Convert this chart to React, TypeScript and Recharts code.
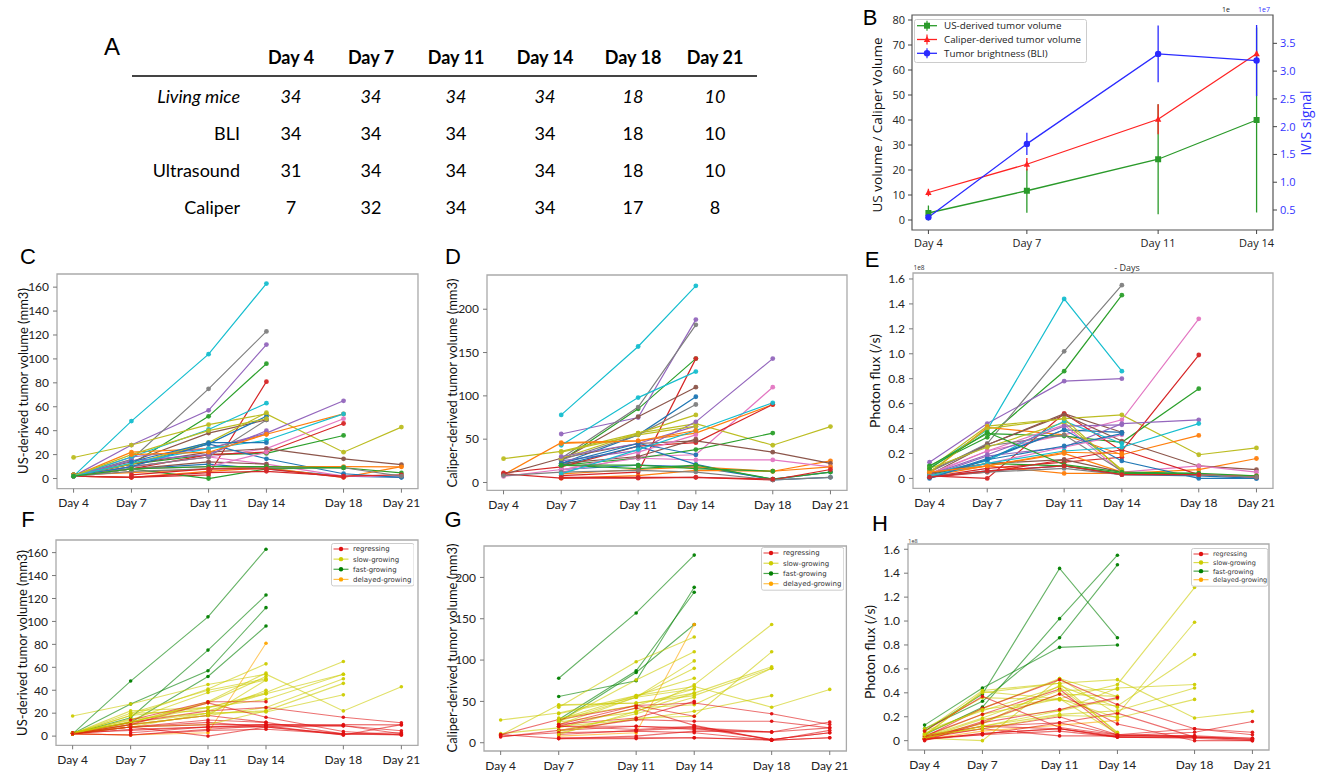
import React from "react";
import { LineChart, Line, XAxis, YAxis, ErrorBar, ReferenceArea } from "recharts";

type V = number | null;
const N = null;

const days = [4, 7, 11, 14, 18, 21];
const tab10 = ["#1f77b4", "#ff7f0e", "#2ca02c", "#d62728", "#9467bd", "#8c564b", "#e377c2", "#7f7f7f", "#bcbd22", "#17becf"];

// table A
const tableHeader = ["Day 4", "Day 7", "Day 11", "Day 14", "Day 18", "Day 21"];
const livingMice = [34, 34, 34, 34, 18, 10];
const bliCounts = [34, 34, 34, 34, 18, 10];
const ultrasoundCounts = [31, 34, 34, 34, 18, 10];
const caliperCounts = [7, 32, 34, 34, 17, 8];

// panel B (mean +/- sd)
const bDays = [4, 7, 11, 14];
const usMean = [2.8, 11.7, 24.3, 40.0];
const usSd = [3, 8.8, 22, 37];
const calMean = [11.0, 22.3, 40.3, 66.5];
const calSd = [1.5, 2.5, 6, 1];
const bliMean = [0.37e7, 1.69e7, 3.31e7, 3.19e7];
const bliSd = [0.05e7, 0.2e7, 0.51e7, 0.64e7];

// one row per mouse, columns = days 4,7,11,14,18,21
const usVolume: V[][] = [
  [3, 8, 12, 8, 2, 1],
  [2, 1, 6, 9, 1, 10],
  [3, 12, 52, 96],
  [2, 1, 3, 81],
  [2, 28, 57, 112],
  [3, 14, 38, 49],
  [2, 10, 18, 25, 50],
  [2, 16, 75, 123],
  [17.6, 28, 45, 54, 22, 43],
  [2, 48, 104, 163],
  [3, 12, 29, 52],
  [2, 22, 25, 37, 54],
  [3, 12, 20, 21, 36],
  [2, 8, 20, 22, 46],
  [2, 18, 25, 38, 65],
  [2, 12, 22, 25, 16.5, 11.7],
  [2, 10, 18, 12, 2, 1.5],
  [2, 10, 18, 49],
  [3, 12, 30, 55],
  [2, 18, 41, 63],
  [2, 10, 29, 16.5, 4, 1],
  [3, 5, 8, 10, 10, 9.8],
  [2, 8, 0, 8, 9, 4.7],
  [2, 1, 5, 6, 2, 3],
  [2, 15, 20, 40],
  [2, 8, 14, 12],
  [2, 8, 10, 22],
  [2, 6, 8, 9, 9, 2],
  [2, 20, 40, 50],
  [2, 13, 25, 32, 54],
  [N, 14, 30, 30],
  [N, 20, 22, 37],
  [2, 8, 10, 10, 9],
  [N, 3, 8, 8, 1],
];

const caliperVolume: V[][] = [
  [N, 15, 20, 18, 4, 12],
  [N, 5, 8, 14, 13, 25],
  [N, 25, 85, 143],
  [N, 8, 12, 143],
  [N, 56, 75, 188],
  [N, 26, 76, 110],
  [N, 12, 30, 32, 110],
  [N, 28, 87, 182],
  [27.5, 36, 57, 68, 43, 64.5],
  [N, 78, 157, 227],
  [N, 22, 55, 99],
  [9, 46, 48, 57, 90],
  [N, 20, 28, 38, 57],
  [11, 18, 42, 46, 90],
  [N, 25, 37, 70, 143],
  [9.5, 28, 45, 48, 35, 22],
  [7, 15, 28, 26, 26, 18],
  [N, 26, 55, 90],
  [N, 28, 57, 78],
  [N, 43, 98, 128],
  [N, 20, 42, 21, 3, 6],
  [N, 10, 15, 18, 13, 18],
  [N, 20, 16, 20, 4, 12],
  [10, 5, 5, 6, 3, 15],
  [N, 30, 45, 65],
  [N, 22, 30, 50],
  [N, 14, 35, 55],
  [8, 12, 14, 12, 3, 6],
  [N, 35, 55, 65],
  [N, 10, 38, 60, 92],
  [N, 22, 45, 32],
  [N, 45, 48, 60],
  [N, 20, 20, 16, 13],
  [N, 6, 6, 6, 4],
];

// photon flux in units of 1e8 /s
const photonFlux: V[][] = [
  [0.01, 0.06, 0.1, 0.03, 0.02, 0.0],
  [0.03, 0.1, 0.04, 0.04, 0.07, 0.16],
  [0.1, 0.33, 0.86, 1.47],
  [0.01, 0.08, 0.13, 0.17],
  [0.13, 0.44, 0.78, 0.8],
  [0.06, 0.27, 0.52, 0.37],
  [0.03, 0.22, 0.35, 0.47, 1.28],
  [0.05, 0.28, 1.02, 1.55],
  [0.08, 0.42, 0.48, 0.51, 0.19, 0.245],
  [0.08, 0.39, 1.44, 0.86],
  [0.02, 0.15, 0.39, 0.37],
  [0.04, 0.41, 0.35, 0.19, 0.345],
  [0.1, 0.36, 0.34, 0.29, 0.72],
  [0.02, 0.0, 0.52, 0.22, 0.99],
  [0.02, 0.18, 0.25, 0.44, 0.47],
  [0.03, 0.27, 0.51, 0.3, 0.1, 0.07],
  [0.04, 0.22, 0.43, 0.05, 0.1, 0.05],
  [0.06, 0.26, 0.35, 0.06],
  [0.08, 0.25, 0.45, 0.07],
  [0.04, 0.14, 0.46, 0.28],
  [0.01, 0.16, 0.39, 0.14, 0.0, 0.0],
  [0.02, 0.1, 0.2, 0.05, 0.03, 0.02],
  [0.03, 0.12, 0.1, 0.04, 0.04, 0.02],
  [0.01, 0.05, 0.15, 0.23, 0.03, 0.01],
  [0.03, 0.19, 0.42, 0.43],
  [0.04, 0.12, 0.15, 0.05],
  [0.02, 0.12, 0.25, 0.35],
  [0.02, 0.05, 0.08, 0.03, 0.03, 0.01],
  [0.05, 0.4, 0.48, 0.06],
  [0.02, 0.12, 0.22, 0.25, 0.44],
  [0.0, 0.15, 0.26, 0.36],
  [0.05, 0.1, 0.21, 0.2],
  [0.08, 0.37, 0.11, 0.05, 0.04],
  [0.01, 0.06, 0.1, 0.03, 0.03],
];

const groupNames = ["regressing", "slow-growing", "fast-growing", "delayed-growing"];
const groupColors: Record<string, string> = {
  regressing: "#e01010",
  "slow-growing": "#cccc00",
  "fast-growing": "#008000",
  "delayed-growing": "#ffa500",
};
const R = "regressing", S = "slow-growing", F = "fast-growing", D = "delayed-growing";
const mouseGroup = [R, R, F, D, F, S, S, F, S, F, S, S, S, S, S, R, R, S, S, S, R, R, R, R, S, R, S, R, S, S, R, S, R, R];

const toRows = (values: V[][]) =>
  days.map((day, j) => {
    const row: Record<string, V> = { day };
    values.forEach((v, i) => {
      row[`m${i}`] = v[j] ?? null;
    });
    return row;
  });

const Txt = ({ x, y, size = 12, anchor = "middle", rotate = 0, style = {}, children }: any) => {
  const tx = anchor === "middle" ? "-50%" : anchor === "end" ? "-100%" : "0";
  return (
    <div
      style={{
        position: "absolute",
        left: x,
        top: y,
        fontSize: size,
        whiteSpace: "nowrap",
        lineHeight: 1,
        transform: `translate(${tx}, -50%) rotate(${rotate}deg)`,
        ...style,
      }}
    >
      {children}
    </div>
  );
};

const TableA = () => {
  const cols = [291, 371, 456, 545, 633, 715];
  const rows: [string, number[], number, boolean][] = [
    ["Living mice", livingMice, 96, true],
    ["BLI", bliCounts, 133, false],
    ["Ultrasound", ultrasoundCounts, 170, false],
    ["Caliper", caliperCounts, 207, false],
  ];
  return (
    <>
      {tableHeader.map((h, i) => (
        <Txt key={h} x={cols[i]} y={57} size={18} style={{ fontWeight: 700, fontFamily: "Lato" }}>
          {h}
        </Txt>
      ))}
      <div style={{ position: "absolute", left: 132, top: 75, width: 625, height: 2, background: "#444" }} />
      {rows.map(([label, vals, y, it]) => (
        <React.Fragment key={label}>
          <Txt x={240} y={y} size={18} anchor="end" style={{ fontStyle: it ? "italic" : "normal", fontFamily: "Lato" }}>
            {label}
          </Txt>
          {vals.map((v, i) => (
            <Txt key={i} x={cols[i]} y={y} size={18} style={{ fontStyle: it ? "italic" : "normal", fontFamily: "Lato" }}>
              {v}
            </Txt>
          ))}
        </React.Fragment>
      ))}
    </>
  );
};

const bColors = { us: "#2a9a2a", cal: "#ff2222", bli: "#2a2aff" };

const squareDot = (c: string) => (p: any) =>
  p.cx == null || p.cy == null ? <g key={`s${p.index}`} /> : <rect key={`s${p.index}`} x={p.cx - 3} y={p.cy - 3} width={6} height={6} fill={c} />;
const triDot = (c: string) => (p: any) =>
  p.cx == null || p.cy == null ? (
    <g key={`t${p.index}`} />
  ) : (
    <polygon key={`t${p.index}`} points={`${p.cx},${p.cy - 3.5} ${p.cx - 3.2},${p.cy + 2.5} ${p.cx + 3.2},${p.cy + 2.5}`} fill={c} />
  );
const circleDot = (c: string) => (p: any) =>
  p.cx == null || p.cy == null ? <g key={`c${p.index}`} /> : <circle key={`c${p.index}`} cx={p.cx} cy={p.cy} r={3.2} fill={c} />;

const PanelB = () => {
  const rows = bDays.map((day, i) => ({
    day,
    us: usMean[i],
    usSd: usSd[i],
    cal: calMean[i],
    calSd: calSd[i],
    bli: bliMean[i],
    bliSd: bliSd[i],
  }));
  const x0 = 912, y0 = 15, x1 = 1273, y1 = 230;
  const ML = 60, MR = 40, MT = 10, XH = 35;
  const tick = { fontSize: 11, fill: "#222", fontFamily: "Open Sans" };
  const legend = [
    { label: "US-derived tumor volume", c: bColors.us, m: "s" },
    { label: "Caliper-derived tumor volume", c: bColors.cal, m: "t" },
    { label: "Tumor brightness (BLI)", c: bColors.bli, m: "c" },
  ];
  return (
    <>
      <div style={{ position: "absolute", left: x0 - ML, top: y0 - MT }}>
        <LineChart width={x1 - x0 + ML + MR} height={y1 - y0 + MT + XH} data={rows} margin={{ top: MT, right: 0, bottom: 0, left: 0 }}>
          <XAxis
            type="number"
            dataKey="day"
            domain={[3.5, 14.5]}
            ticks={bDays}
            allowDataOverflow
            tickFormatter={(d) => `Day ${d}`}
            axisLine={false}
            tickSize={4}
            tickMargin={5}
            height={XH}
            tick={tick}
            tickLine={{ stroke: "#444" }}
          />
          <YAxis
            yAxisId="left"
            type="number"
            domain={[-4, 82]}
            ticks={[0, 10, 20, 30, 40, 50, 60, 70, 80]}
            allowDataOverflow
            width={ML}
            axisLine={false}
            tickSize={4}
            tickMargin={3}
            tick={tick}
            tickLine={{ stroke: "#444" }}
          />
          <YAxis
            yAxisId="right"
            orientation="right"
            type="number"
            domain={[0.14e7, 4.01e7]}
            ticks={[0.5e7, 1e7, 1.5e7, 2e7, 2.5e7, 3e7, 3.5e7]}
            allowDataOverflow
            width={MR}
            axisLine={false}
            tickSize={4}
            tickMargin={3}
            tickFormatter={(v) => (v / 1e7).toFixed(1)}
            tick={{ ...tick, fill: "#3333ff" }}
            tickLine={{ stroke: "#444" }}
          />
          <ReferenceArea yAxisId="left" x1={3.5} x2={14.5} y1={-4} y2={82} fill="none" stroke="#555" strokeWidth={1.2} ifOverflow="visible" />
          <Line yAxisId="left" dataKey="us" stroke={bColors.us} strokeWidth={1.3} dot={squareDot(bColors.us)} isAnimationActive={false}>
            <ErrorBar dataKey="usSd" direction="y" width={0} stroke={bColors.us} strokeWidth={1.3} />
          </Line>
          <Line yAxisId="left" dataKey="cal" stroke={bColors.cal} strokeWidth={1.3} dot={triDot(bColors.cal)} isAnimationActive={false}>
            <ErrorBar dataKey="calSd" direction="y" width={0} stroke={bColors.cal} strokeWidth={1.3} />
          </Line>
          <Line yAxisId="right" dataKey="bli" stroke={bColors.bli} strokeWidth={1.3} dot={circleDot(bColors.bli)} isAnimationActive={false}>
            <ErrorBar dataKey="bliSd" direction="y" width={0} stroke={bColors.bli} strokeWidth={1.3} />
          </Line>
        </LineChart>
      </div>
      <svg style={{ position: "absolute", left: 914, top: 19 }} width={173} height={44}>
        <rect x={0.5} y={0.5} width={172} height={43} fill="#fff" fillOpacity={0.85} stroke="#ccc" rx={2} />
        {legend.map((e, i) => {
          const y = 6.7 + i * 13.8;
          return (
            <g key={e.label}>
              <line x1={3} x2={23} y1={y} y2={y} stroke={e.c} strokeWidth={1.3} />
              <line x1={13} x2={13} y1={y - 5} y2={y + 5} stroke={e.c} strokeWidth={1.2} />
              {e.m === "s" && <rect x={10} y={y - 3} width={6} height={6} fill={e.c} />}
              {e.m === "t" && <polygon points={`13,${y - 3.5} 9.8,${y + 2.5} 16.2,${y + 2.5}`} fill={e.c} />}
              {e.m === "c" && <circle cx={13} cy={y} r={3.2} fill={e.c} />}
              <text x={30} y={y + 3.3} fontSize={9.8} fontFamily="Open Sans" fill="#222">
                {e.label}
              </text>
            </g>
          );
        })}
      </svg>
      <Txt x={878} y={125} size={13.5} rotate={-90} style={{ fontFamily: "Open Sans", color: "#111" }}>
        US volume / Caliper Volume
      </Txt>
      <Txt x={1306} y={123} size={14} rotate={-90} style={{ fontFamily: "Open Sans", color: "#3333ff" }}>
        IVIS signal
      </Txt>
      <Txt x={1264} y={9} size={7} style={{ fontFamily: "Open Sans", color: "#3333ff" }}>
        1e7
      </Txt>
      <Txt x={1226} y={9} size={7} style={{ fontFamily: "Open Sans", color: "#222" }}>
        1e
      </Txt>
    </>
  );
};

type SpagProps = {
  frame: [number, number, number, number];
  yDomain: [number, number];
  yTicks: number[];
  yFmt?: (v: number) => string;
  values: V[][];
  colorOf: (i: number) => string;
  lineOpacity: number;
  dotR: number;
  lineWidth: number;
};

const Spaghetti = ({ frame, yDomain, yTicks, yFmt, values, colorOf, lineOpacity, dotR, lineWidth }: SpagProps) => {
  const [x0, y0, x1, y1] = frame;
  const ML = 50, MR = 12, MT = 6, XH = 32;
  const rows = toRows(values);
  const tick = { fontSize: 12, fill: "#222", fontFamily: "Lato" };
  const xDom: [number, number] = [3.14, 21.86];
  return (
    <div style={{ position: "absolute", left: x0 - ML, top: y0 - MT }}>
      <LineChart width={x1 - x0 + ML + MR} height={y1 - y0 + MT + XH} data={rows} margin={{ top: MT, right: MR, bottom: 0, left: 0 }}>
        <XAxis
          type="number"
          dataKey="day"
          domain={xDom}
          ticks={days}
          allowDataOverflow
          tickFormatter={(d) => `Day ${d}`}
          axisLine={false}
          tickSize={4}
          tickMargin={6}
          height={XH}
          tick={tick}
          tickLine={{ stroke: "#777" }}
        />
        <YAxis
          type="number"
          domain={yDomain}
          ticks={yTicks}
          allowDataOverflow
          width={ML}
          axisLine={false}
          tickSize={4}
          tickMargin={4}
          tickFormatter={yFmt}
          tick={tick}
          tickLine={{ stroke: "#777" }}
        />
        <ReferenceArea x1={xDom[0]} x2={xDom[1]} y1={yDomain[0]} y2={yDomain[1]} fill="none" stroke="#aaa" strokeWidth={1.3} ifOverflow="visible" />
        {values.map((_, i) => {
          const c = colorOf(i);
          return (
            <Line
              key={i}
              dataKey={`m${i}`}
              stroke={c}
              strokeOpacity={lineOpacity}
              strokeWidth={lineWidth}
              dot={{ r: dotR, fill: c, stroke: "none", fillOpacity: 0.95 }}
              connectNulls={false}
              isAnimationActive={false}
            />
          );
        })}
      </LineChart>
    </div>
  );
};

const GroupLegend = ({ x, y, w, h, size }: { x: number; y: number; w: number; h: number; size: number }) => {
  const step = (h - 12) / 3;
  return (
    <svg style={{ position: "absolute", left: x, top: y }} width={w + 1} height={h + 1}>
      <rect x={0.5} y={0.5} width={w} height={h} fill="#fff" stroke="#ccc" rx={2} />
      {groupNames.map((g, i) => {
        const yy = 6 + i * step;
        return (
          <g key={g}>
            <line x1={2.5} x2={17.5} y1={yy} y2={yy} stroke={groupColors[g]} strokeOpacity={0.7} strokeWidth={1.2} />
            <circle cx={10} cy={yy} r={2.2} fill={groupColors[g]} />
            <text x={22} y={yy + 2.4} fontSize={size} fontFamily="DejaVu Sans" fill="#333">
              {g}
            </text>
          </g>
        );
      })}
    </svg>
  );
};

const usTicks = [0, 20, 40, 60, 80, 100, 120, 140, 160];
const calTicks = [0, 50, 100, 150, 200];
const fluxTicks = [0, 0.2, 0.4, 0.6, 0.8, 1.0, 1.2, 1.4, 1.6];
const fluxFmt = (v: number) => (v === 0 ? "0" : v.toFixed(1));
const tabColor = (i: number) => tab10[i % 10];
const grpColor = (i: number) => groupColors[mouseGroup[i]];

const panelLetter = { fontFamily: "Liberation Sans", color: "#000" };

export default function App() {
  return (
    <div style={{ position: "absolute", left: 0, top: 0, width: 1323, height: 772, background: "#fff", overflow: "hidden", fontFamily: "Lato" }}>
      <TableA />
      <PanelB />

      <Spaghetti frame={[56.7, 274, 417.7, 488.7]} yDomain={[-8.5, 171]} yTicks={usTicks} values={usVolume} colorOf={tabColor} lineOpacity={1} dotR={2.4} lineWidth={1.2} />
      <Spaghetti frame={[486.7, 274.7, 846.7, 490]} yDomain={[-9, 239.5]} yTicks={calTicks} values={caliperVolume} colorOf={tabColor} lineOpacity={1} dotR={2.4} lineWidth={1.2} />
      <Spaghetti frame={[913.3, 273.3, 1273.3, 488.7]} yDomain={[-0.08, 1.648]} yTicks={fluxTicks} yFmt={fluxFmt} values={photonFlux} colorOf={tabColor} lineOpacity={1} dotR={2.4} lineWidth={1.2} />

      <Spaghetti frame={[55.7, 540, 417.7, 745.3]} yDomain={[-8, 171]} yTicks={usTicks} values={usVolume} colorOf={grpColor} lineOpacity={0.6} dotR={1.8} lineWidth={1.1} />
      <Spaghetti frame={[484.3, 545.7, 846.7, 750.7]} yDomain={[-10, 238]} yTicks={calTicks} values={caliperVolume} colorOf={grpColor} lineOpacity={0.6} dotR={1.8} lineWidth={1.1} />
      <Spaghetti frame={[908.3, 544, 1269.3, 750]} yDomain={[-0.078, 1.644]} yTicks={fluxTicks} yFmt={fluxFmt} values={photonFlux} colorOf={grpColor} lineOpacity={0.6} dotR={1.8} lineWidth={1.1} />

      <GroupLegend x={330.7} y={543.3} w={82.6} h={42.4} size={7} />
      <GroupLegend x={761} y={547.3} w={82.3} h={42.7} size={7} />
      <GroupLegend x={1191} y={548} w={76.3} h={37.7} size={6.5} />

      <Txt x={23} y={381} size={13} rotate={-90} style={{ color: "#111" }}>US-derived tumor volume (mm3)</Txt>
      <Txt x={452} y={383} size={13} rotate={-90} style={{ color: "#111" }}>Caliper-derived tumor volume (mm3)</Txt>
      <Txt x={875} y={381} size={14} rotate={-90} style={{ color: "#111" }}>Photon flux (/s)</Txt>
      <Txt x={22} y={643} size={13} rotate={-90} style={{ color: "#111" }}>US-derived tumor volume (mm3)</Txt>
      <Txt x={452} y={648} size={13} rotate={-90} style={{ color: "#111" }}>Caliper-derived tumor volume (mm3)</Txt>
      <Txt x={870} y={652} size={14} rotate={-90} style={{ color: "#111" }}>Photon flux (/s)</Txt>

      <Txt x={919} y={268} size={6.5} style={{ fontFamily: "Open Sans", color: "#333" }}>1e8</Txt>
      <Txt x={913} y={542} size={5.5} style={{ fontFamily: "Open Sans", color: "#333" }}>1e8</Txt>
      <Txt x={1127} y={267} size={9} style={{ fontFamily: "Open Sans", color: "#333" }}>- Days</Txt>

      <Txt x={112} y={47} size={24} style={panelLetter}>A</Txt>
      <Txt x={870} y={18} size={22} style={panelLetter}>B</Txt>
      <Txt x={28} y={257} size={22} style={panelLetter}>C</Txt>
      <Txt x={453} y={257} size={22} style={panelLetter}>D</Txt>
      <Txt x={872} y={260} size={22} style={panelLetter}>E</Txt>
      <Txt x={28} y={520} size={22} style={panelLetter}>F</Txt>
      <Txt x={453} y={520} size={22} style={panelLetter}>G</Txt>
      <Txt x={880} y={524} size={22} style={panelLetter}>H</Txt>
    </div>
  );
}
